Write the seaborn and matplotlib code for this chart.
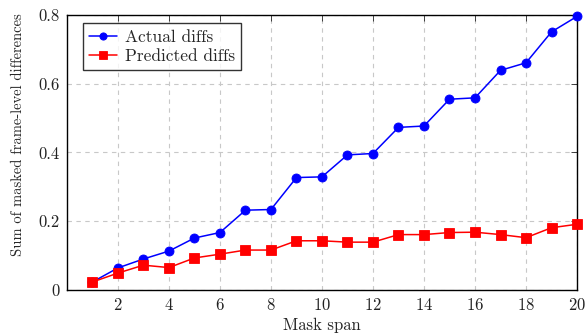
import matplotlib
matplotlib.use("Agg")
import matplotlib.pyplot as plt
import seaborn as sns
import pandas as pd

# mask span 1..20
mask_span = list(range(1, 21))
actual_diffs = [0.023, 0.064, 0.090, 0.113, 0.151, 0.167, 0.232, 0.234, 0.327, 0.329,
                0.393, 0.397, 0.473, 0.477, 0.555, 0.559, 0.639, 0.661, 0.751, 0.796]
predicted_diffs = [0.023, 0.049, 0.072, 0.065, 0.093, 0.104, 0.116, 0.116, 0.143, 0.143,
                   0.139, 0.139, 0.161, 0.161, 0.167, 0.168, 0.161, 0.152, 0.181, 0.191]
series_names = ["Actual diffs", "Predicted diffs"]
x_ticks = [2, 4, 6, 8, 10, 12, 14, 16, 18, 20]
y_ticks = [0, 0.2, 0.4, 0.6, 0.8]

sns.set_style("white")
plt.rcParams["font.family"] = ["cmr10", "DejaVu Serif"]
plt.rcParams["axes.formatter.use_mathtext"] = True
plt.rcParams["mathtext.fontset"] = "cm"

df = pd.DataFrame({
    "span": mask_span * 2,
    "value": actual_diffs + predicted_diffs,
    "series": [series_names[0]] * len(mask_span) + [series_names[1]] * len(mask_span),
})

fig = plt.figure(figsize=(5.87, 3.34), dpi=100)
ax = fig.add_axes([0.114, 0.132, 0.869, 0.823])

sns.lineplot(data=df, x="span", y="value", hue="series", style="series",
             palette={series_names[0]: "#0000ff", series_names[1]: "#ff0000"},
             markers={series_names[0]: "o", series_names[1]: "s"},
             dashes=False, linewidth=1.1, markersize=6.5,
             markeredgewidth=0.6, ax=ax, clip_on=False, zorder=3)
for line in ax.lines:
    line.set_markeredgecolor(line.get_color())

ax.set_xlim(0, 20)
ax.set_ylim(0, 0.8)
ax.set_xticks(x_ticks)
ax.set_yticks(y_ticks)
ax.set_yticklabels(["0", "0.2", "0.4", "0.6", "0.8"])
ax.grid(True, color="#c8c8c8", linestyle=(0, (4, 4)), linewidth=0.8)
ax.tick_params(direction="in", top=True, right=True, length=4, width=0.6,
               labelsize=12, colors="#222222", pad=5)
for s in ax.spines.values():
    s.set_color("black")
    s.set_linewidth(1.0)

ax.set_xlabel("Mask span", fontsize=12, labelpad=3.5)
ax.set_ylabel("Sum of masked frame-level differences", fontsize=10.5)
ax.yaxis.set_label_coords(-0.083, 0.564)

leg = ax.legend(loc="upper left", bbox_to_anchor=(0.031, 0.97), borderaxespad=0,
                frameon=True, fancybox=False, edgecolor="black", fontsize=12.5,
                handlelength=1.6, handletextpad=0.5, borderpad=0.35,
                labelspacing=0.25, markerscale=0.8)
leg.get_frame().set_linewidth(1.0)

fig.savefig("out.png", dpi=100)
